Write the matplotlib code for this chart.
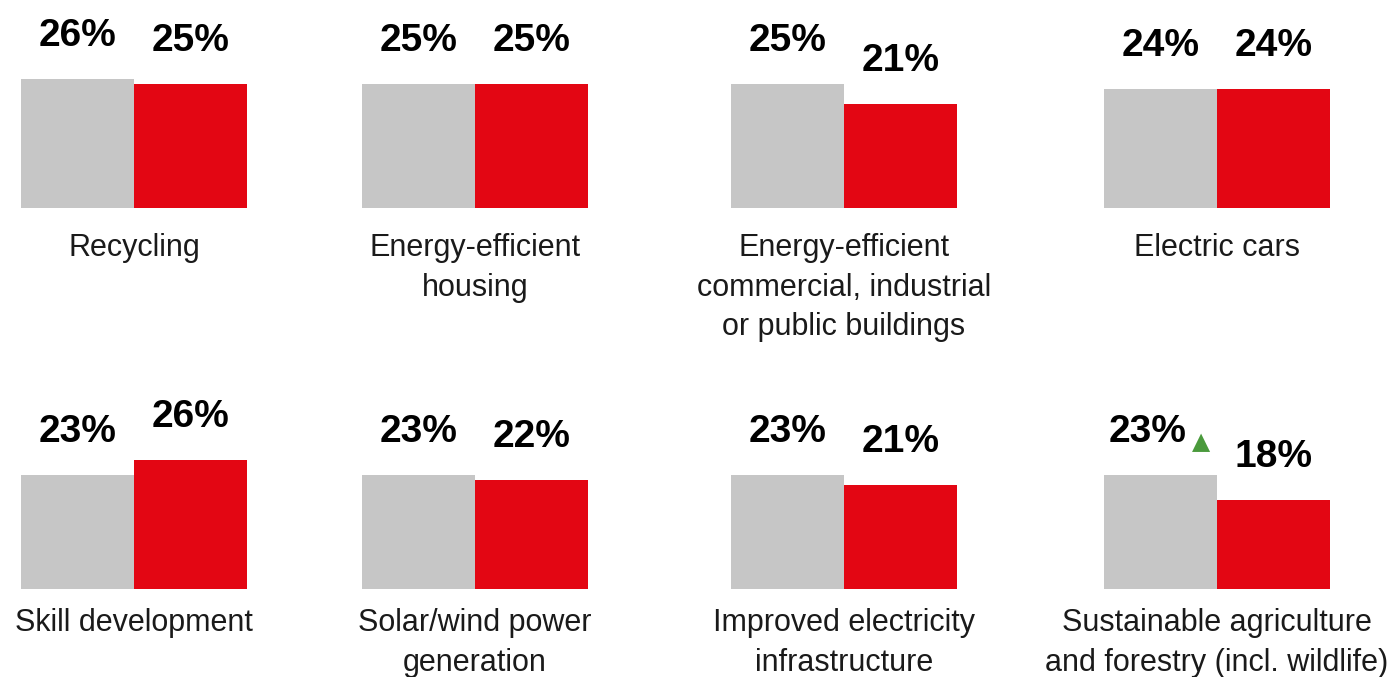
import matplotlib
matplotlib.use("Agg")
import matplotlib.pyplot as plt

plt.rcParams['font.family'] = ['Liberation Sans', 'DejaVu Sans']

categories = [
    "Recycling",
    "Energy-efficient\nhousing",
    "Energy-efficient\ncommercial, industrial\nor public buildings",
    "Electric cars",
    "Skill development",
    "Solar/wind power\ngeneration",
    "Improved electricity\ninfrastructure",
    "Sustainable agriculture\nand forestry (incl. wildlife)",
]
grey_values = [26, 25, 25, 24, 23, 23, 23, 23]
red_values = [25, 25, 21, 24, 26, 22, 21, 18]
rising = [False, False, False, False, False, False, False, True]

W, H = 1396, 677
DPI = 100
fig = plt.figure(figsize=(W / DPI, H / DPI), dpi=DPI)

GREY = "#c6c6c6"
RED = "#e30613"
GREEN = "#4a9a3c"

col_left = [21, 362, 731, 1104]
row_bottom = [208, 589]
label_top = [233, 608]
panel_w = 226
px_per_pct = 4.96
ymax = 40

for i in range(8):
    r, c = divmod(i, 4)
    left = col_left[c]
    bottom = row_bottom[r]
    hpx = ymax * px_per_pct
    ax = fig.add_axes([left / W, (H - bottom) / H, panel_w / W, hpx / H])
    ax.bar([0, 1], [grey_values[i], red_values[i]], width=1.0,
           color=[GREY, RED], align='center')
    ax.set_xlim(-0.5, 1.5)
    ax.set_ylim(0, ymax)
    ax.axis('off')
    for j, (x, v) in enumerate(zip([0, 1], [grey_values[i], red_values[i]])):
        dx = -9 if (rising[i] and j == 0) else 0
        ax.annotate(f"{v}%", xy=(x, v), xytext=(dx, 31), textcoords='offset points',
                    ha='center', va='center', fontsize=28, fontweight='bold',
                    color='black')
        if rising[i] and j == 0:
            ax.annotate("▲", xy=(x, v), xytext=(29, 24),
                        textcoords='offset points', ha='center', va='center',
                        fontsize=17, color=GREEN, family='DejaVu Sans')
    fig.text((left + panel_w / 2) / W, (H - label_top[r]) / H, categories[i],
             ha='center', va='top', fontsize=22, linespacing=1.42,
             color='#1a1a1a')

fig.savefig("out.png", dpi=DPI)
